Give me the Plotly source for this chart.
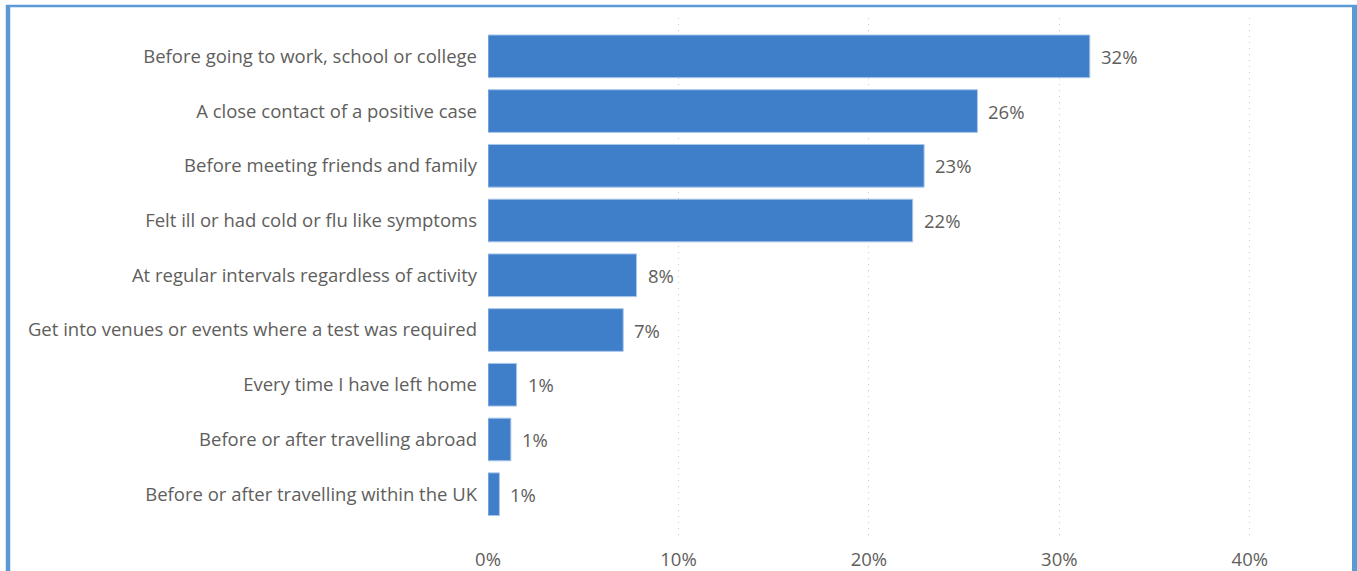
import plotly.graph_objects as go

categories = [
    "Before going to work, school or college",
    "A close contact of a positive case",
    "Before meeting friends and family",
    "Felt ill or had cold or flu like symptoms",
    "At regular intervals regardless of activity",
    "Get into venues or events where a test was required",
    "Every time I have left home",
    "Before or after travelling abroad",
    "Before or after travelling within the UK",
]
values = [31.6, 25.7, 22.9, 22.3, 7.8, 7.1, 1.5, 1.2, 0.6]
labels = ["32%", "26%", "23%", "22%", "8%", "7%", "1%", "1%", "1%"]
x_ticks = [0, 10, 20, 30, 40]
x_tick_labels = ["0%", "10%", "20%", "30%", "40%"]

W, H = 1357, 571
L, R, T, B = 488, 1345, 18, 538

def px(x):
    return (x - L) / (R - L)

def py(y):
    return (B - y) / (B - T)

FONT = "Open Sans, sans-serif"
GREY = "#605E5C"
FS = 18.5

fig = go.Figure(go.Bar(
    y=categories, x=values, orientation="h",
    marker=dict(color="#3F7FCA", line=dict(color="#A9C6EA", width=1)),
    width=0.78, hoverinfo="x+y",
))

for c, v, t in zip(categories, values, labels):
    fig.add_annotation(x=v, y=c, text=t, showarrow=False, xanchor="left",
                       xshift=9, font=dict(family=FONT, size=FS, color=GREY))

border = "#5B9BD5"
shapes = [
    dict(type="line", xref="paper", yref="paper", x0=px(8), x1=px(8), y0=py(5), y1=py(580),
         line=dict(color=border, width=4.5)),
    dict(type="line", xref="paper", yref="paper", x0=px(6), x1=px(1357), y0=py(6), y1=py(6),
         line=dict(color=border, width=2.5)),
    dict(type="line", xref="paper", yref="paper", x0=px(1354.5), x1=px(1354.5), y0=py(5), y1=py(580),
         line=dict(color=border, width=5)),
]

fig.update_layout(
    width=W, height=H,
    margin=dict(l=L, r=W - R, t=T, b=H - B, autoexpand=False),
    paper_bgcolor="white", plot_bgcolor="white",
    showlegend=False,
    shapes=shapes,
    font=dict(family=FONT, size=FS, color=GREY),
    xaxis=dict(range=[0, 45], tickvals=x_ticks, ticktext=x_tick_labels,
               showgrid=True, gridcolor="#C8C8C8", griddash="1px,5px", gridwidth=1,
               zeroline=False, showline=False, ticks="", ticklabelstandoff=8,
               automargin=False, tickfont=dict(size=FS, color=GREY)),
    yaxis=dict(type="category", categoryarray=categories, range=[8.8, -0.7],
               showgrid=False, zeroline=False, showline=False, ticks="",
               ticklabelstandoff=10, automargin=False,
               tickfont=dict(size=FS, color=GREY)),
)

fig.write_html("out.html",
               config={"displayModeBar": False},
               post_script="document.body.style.margin='0';document.body.style.overflow='hidden';")
